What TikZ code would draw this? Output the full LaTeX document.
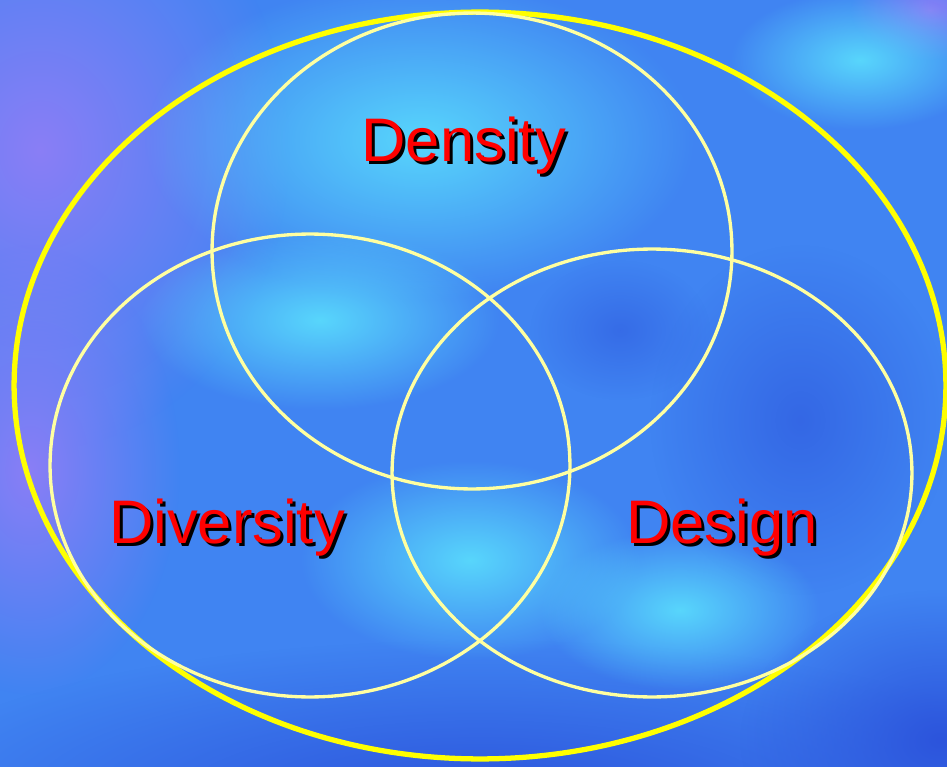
\documentclass[tikz,border=0pt]{standalone}
\usepackage{fontspec}
\setmainfont{Liberation Sans}
\usetikzlibrary{fadings}

\definecolor{bgblue}{RGB}{64,132,242}
\definecolor{skycyan}{RGB}{88,214,252}
\definecolor{haze}{RGB}{138,126,246}
\definecolor{deepblue}{RGB}{44,84,220}
\definecolor{ringyellow}{RGB}{255,255,0}
\definecolor{paleyellow}{RGB}{255,255,160}
\tikzfading[name=blob,inner color=transparent!0,outer color=transparent!100]

\begin{document}
\begin{tikzpicture}[
  x=0.02cm,y=-0.02cm,
  glow/.style={path fading=blob},
  frame/.style={draw=ringyellow,line width=3pt},
  ring/.style={draw=paleyellow,line width=1.9pt},
  word/.style={anchor=base,inner sep=0pt,text=red,
    font=\fontsize{35}{42}\selectfont},
  shadow/.style={word,text=black}
]
% page in pixel units, origin top left
\clip (0,0) rectangle (947,767);

% textured blue background
\fill[bgblue] (0,0) rectangle (947,767);
\fill[haze,glow] (40,150) ellipse (5cm and 6cm);
\fill[haze,glow] (30,470) ellipse (3cm and 4.5cm);
\fill[haze,glow] (930,10) ellipse (1.6cm and 1cm);
\fill[deepblue,glow] (480,800) ellipse (12cm and 3.2cm);
\fill[deepblue,glow] (940,740) ellipse (4cm and 3cm);
\fill[deepblue,glow,opacity=.6] (800,420) ellipse (3cm and 3.5cm);
\fill[skycyan,glow] (420,140) ellipse (5.5cm and 3.2cm);
\fill[skycyan,glow] (320,320) ellipse (3.6cm and 1.8cm);
\fill[skycyan,glow] (470,560) ellipse (3.4cm and 2cm);
\fill[skycyan,glow] (860,60) ellipse (2.6cm and 1.4cm);
\fill[skycyan,glow] (680,610) ellipse (2.8cm and 1.6cm);
\fill[deepblue,glow,opacity=.5] (620,330) ellipse (1.8cm and 1.4cm);

% outer frame and the three sets
\draw[frame] (480,385.5) ellipse (9.32cm and 7.47cm);
\draw[ring] (472,251) ellipse (5.2cm and 4.76cm);
\draw[ring] (310,465.5) ellipse (5.2cm and 4.63cm);
\draw[ring] (652,473) ellipse (5.2cm and 4.48cm);

% labels with drop shadow
\node[shadow] (density-sh) at (467,165) {Density};
\node[word] (density) at (464,162) {Density};
\node[shadow] (diversity-sh) at (230,546) {Diversity};
\node[word] (diversity) at (227,543) {Diversity};
\node[shadow] (design-sh) at (725,546) {Design};
\node[word] (design) at (722,543) {Design};
\end{tikzpicture}
\end{document}
